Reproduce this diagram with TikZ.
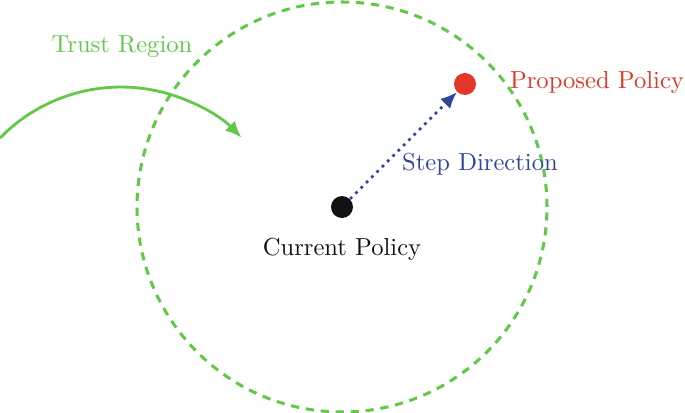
\documentclass[tikz,border=0pt]{standalone}
\usetikzlibrary{arrows.meta}
\definecolor{trgreen}{RGB}{98,200,72}
\definecolor{prred}{RGB}{226,54,38}
\definecolor{stblue}{RGB}{48,68,160}
\definecolor{dotblack}{RGB}{18,18,18}
\begin{document}
\begin{tikzpicture}[x=0.015cm,y=-0.015cm,
  dotnode/.style={circle,inner sep=0pt,minimum size=22*0.015cm},
  lbl/.style={font=\fontsize{10.5}{12}\selectfont,inner sep=1pt}]
\useasboundingbox (0,0) rectangle (685,413);
% trust region circle
\node[circle,draw=trgreen,line width=1.3pt,dash pattern=on 3.5pt off 2.9pt,inner sep=0pt,minimum size=410*0.015cm] (tr) at (342,207) {};
% dots
\node[dotnode,fill=dotblack] (cur) at (342,207) {};
\node[dotnode,fill=prred] (prop) at (465,84) {};
% labels
\node[lbl,text=dotblack] (curl) at (342,249) {Current Policy};
\node[lbl,text=prred] (propl) at (597,82) {Proposed Policy};
\node[lbl,text=stblue] (stepl) at (480,164) {Step Direction};
\node[lbl,text=trgreen] (trl) at (122,47) {Trust Region};
% step arrow
\draw[stblue,line width=1.2pt,dotted,-{Latex[length=7pt,width=6pt]}] (cur) -- (prop);
% curved arrow
\coordinate (as) at (0,138);
\draw[trgreen,line width=1.2pt,-{Latex[length=7pt,width=6pt]}] (as) arc[start angle=-135.7,end angle=-44.5,radius=169];
\end{tikzpicture}
\end{document}
